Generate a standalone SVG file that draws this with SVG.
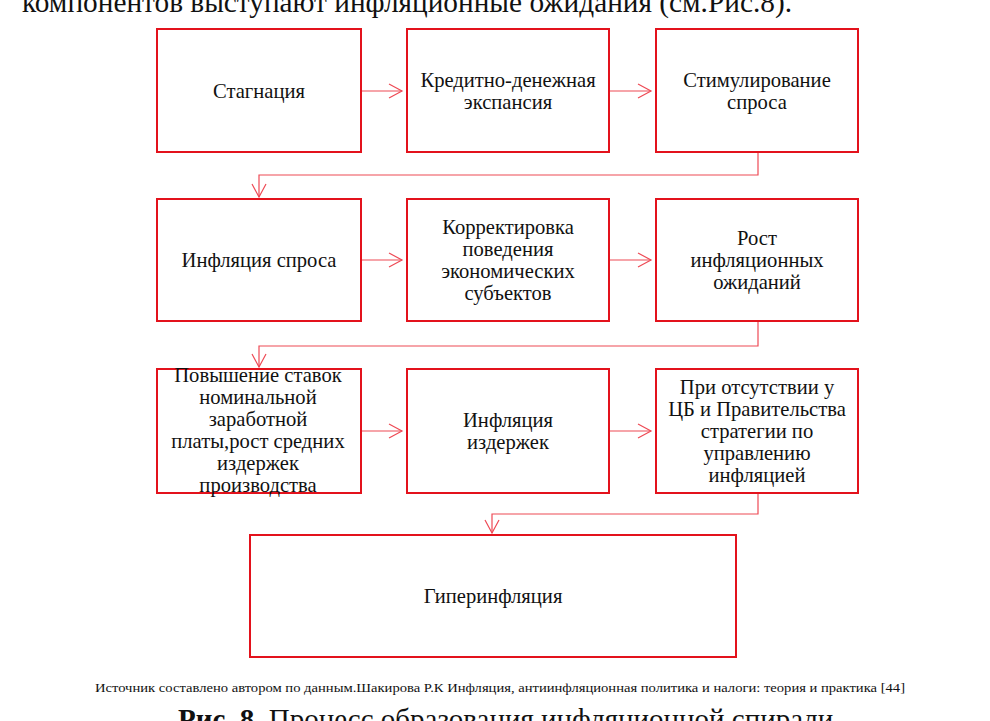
<svg xmlns="http://www.w3.org/2000/svg" width="990" height="721" viewBox="0 0 990 721">
<style>
.box{fill:#fff;stroke:#e3121c;stroke-width:2}
.t{font-family:"Liberation Serif","Times New Roman",serif;font-size:20.6px;fill:#111;text-anchor:middle}
.body{font-family:"Liberation Serif","Times New Roman",serif;fill:#111}
.c{fill:none;stroke:#ee4a55;stroke-width:1.2}
</style>
<defs>
<marker id="ah" markerWidth="16" markerHeight="16" refX="14" refY="8" orient="auto" markerUnits="userSpaceOnUse">
<path d="M1,1 L14,8 L1,15" fill="none" stroke="#ee4a55" stroke-width="1.2"/>
</marker>
</defs>
<rect width="990" height="721" fill="#fff"/>
<text class="body" x="22" y="11.5" font-size="29" textLength="770" lengthAdjust="spacingAndGlyphs">компонентов выступают инфляционные ожидания (см.Рис.8).</text>

<g id="connectors">
<line class="c" x1="361" y1="91" x2="402" y2="91" marker-end="url(#ah)"/>
<line class="c" x1="609" y1="91" x2="651" y2="91" marker-end="url(#ah)"/>
<polyline class="c" points="758,152 758,175 259,175 259,197" marker-end="url(#ah)"/>
<line class="c" x1="361" y1="260" x2="402" y2="260" marker-end="url(#ah)"/>
<line class="c" x1="609" y1="260" x2="651" y2="260" marker-end="url(#ah)"/>
<polyline class="c" points="758,321 758,346 259,346 259,367" marker-end="url(#ah)"/>
<line class="c" x1="361" y1="431" x2="402" y2="431" marker-end="url(#ah)"/>
<line class="c" x1="609" y1="431" x2="651" y2="431" marker-end="url(#ah)"/>
<polyline class="c" points="758,493 758,514 492,514 492,533" marker-end="url(#ah)"/>
</g>

<g id="n1"><rect class="box" x="157" y="29" width="204" height="123"/>
<text class="t" x="259" y="97.5">Стагнация</text></g>
<g id="n2"><rect class="box" x="407" y="29" width="202" height="123"/>
<text class="t" x="508" y="86.5">Кредитно-денежная</text><text class="t" x="508" y="108.5">экспансия</text></g>
<g id="n3"><rect class="box" x="656" y="29" width="202" height="123"/>
<text class="t" x="757" y="86.5">Стимулирование</text><text class="t" x="757" y="108.5">спроса</text></g>

<g id="n4"><rect class="box" x="157" y="199" width="204" height="122"/>
<text class="t" x="259" y="267">Инфляция спроса</text></g>
<g id="n5"><rect class="box" x="407" y="199" width="202" height="122"/>
<text class="t" x="508" y="234">Корректировка</text><text class="t" x="508" y="256">поведения</text><text class="t" x="508" y="278">экономических</text><text class="t" x="508" y="300">субъектов</text></g>
<g id="n6"><rect class="box" x="656" y="199" width="202" height="122"/>
<text class="t" x="757" y="245">Рост</text><text class="t" x="757" y="267">инфляционных</text><text class="t" x="757" y="289">ожиданий</text></g>

<g id="n7"><rect class="box" x="157" y="369" width="204" height="124"/>
<text class="t" x="258" y="382">Повышение ставок</text><text class="t" x="258" y="404">номинальной</text><text class="t" x="258" y="426">заработной</text><text class="t" x="258" y="448">платы,рост средних</text><text class="t" x="258" y="470">издержек</text><text class="t" x="258" y="492">производства</text></g>
<g id="n8"><rect class="box" x="407" y="369" width="202" height="124"/>
<text class="t" x="508" y="427">Инфляция</text><text class="t" x="508" y="449">издержек</text></g>
<g id="n9"><rect class="box" x="656" y="369" width="202" height="124"/>
<text class="t" x="757" y="394">При отсутствии у</text><text class="t" x="757" y="416">ЦБ и Правительства</text><text class="t" x="757" y="438">стратегии по</text><text class="t" x="757" y="460">управлению</text><text class="t" x="757" y="482">инфляцией</text></g>

<g id="n10"><rect class="box" x="250" y="535" width="486" height="122"/>
<text class="t" x="493" y="603">Гиперинфляция</text></g>

<text class="body" x="95" y="692" font-size="13" textLength="810" lengthAdjust="spacingAndGlyphs">Источник составлено автором по данным.Шакирова Р.К Инфляция, антиинфляционная политика и налоги: теория и практика [44]</text>
<text class="body" x="178" y="729" font-size="29"><tspan font-weight="bold">Рис. 8.</tspan> Процесс образования инфляционной спирали</text>
</svg>
